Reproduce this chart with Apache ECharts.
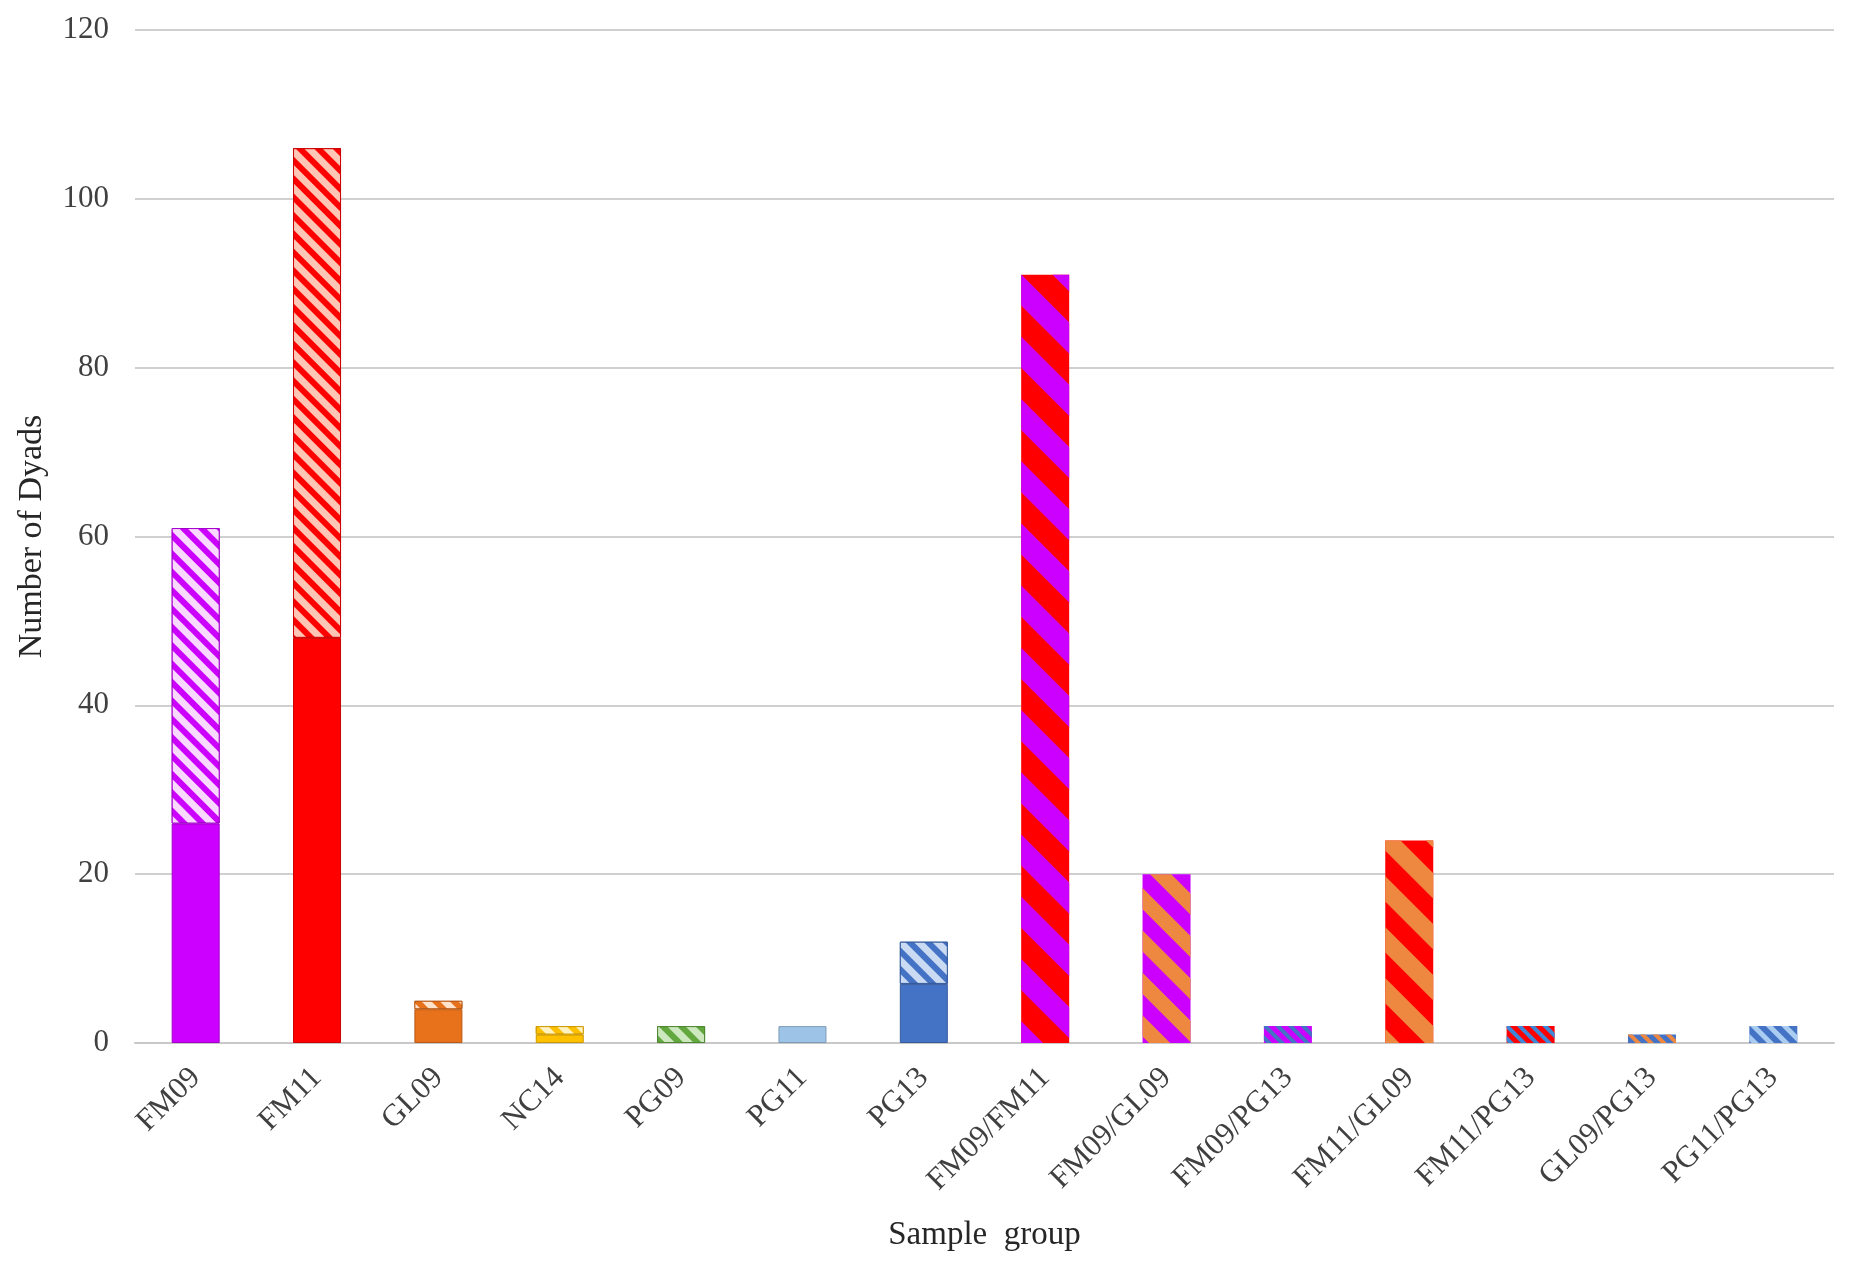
<!DOCTYPE html>
<html>
<head>
<meta charset="utf-8">
<script src="https://cdn.jsdelivr.net/npm/echarts@6/dist/echarts.min.js"></script>
<style>html,body{margin:0;padding:0;background:#fff;}#chart{width:1850px;height:1272px;}</style>
</head>
<body>
<div id="chart"></div>
<script>
// ---- data ----
var categories = ['FM09','FM11','GL09','NC14','PG09','PG11','PG13','FM09/FM11','FM09/GL09','FM09/PG13','FM11/GL09','FM11/PG13','GL09/PG13','PG11/PG13'];
var solidValues   = [26, 48, 4, 1, null, 2, 7, null, null, null, null, null, null, null];
var hatchedValues = [35, 58, 1, 1, 2, null, 5, null, null, null, null, null, null, null];
var sharedValues  = [null, null, null, null, null, null, null, 91, 20, 2, 24, 2, 1, 2];
var yTicks = [0, 20, 40, 60, 80, 100, 120];

// ---- styles ----
var PURPLE = '#CC00FF', RED = '#FF0000', ORANGE = '#E8711C', YELLOW = '#FFC000',
    GREEN = '#63A83E', LBLUE = '#9DC3E6', BLUE = '#4472C4', ORANGE2 = '#EE8840', BLUE2 = '#3E86D6';
var baseColors = [PURPLE, RED, ORANGE, YELLOW, GREEN, LBLUE, BLUE];
var hatchLight = ['#F9D9FF', '#FFC6B6', '#FFE3CC', '#FFF2C0', '#CDE8BF', '#DDEBF7', '#C9DAF2'];
// [base, stripe, stripeWidth, gapWidth]
var sharedStyles = {
  7: [RED, PURPLE, 22, 22],
  8: [PURPLE, ORANGE2, 15, 15],
  9: [PURPLE, BLUE, 4, 5],
  10: [RED, ORANGE2, 18, 18],
  11: [RED, BLUE2, 4, 5],
  12: [BLUE, ORANGE2, 4, 5],
  13: [BLUE, '#A9CCF0', 5, 6]
};
function stripe(color, a, b) {
  return { symbol: 'rect', symbolSize: 1, dashArrayX: [1, 0], dashArrayY: [a, b], rotation: Math.PI / 4, color: color };
}
function darker(hex) {
  var n = parseInt(hex.slice(1), 16);
  var r = Math.round(((n >> 16) & 255) * 0.8), g = Math.round(((n >> 8) & 255) * 0.8), bl = Math.round((n & 255) * 0.8);
  return 'rgb(' + r + ',' + g + ',' + bl + ')';
}

var solidData = solidValues.map(function (v, i) {
  if (v == null) return null;
  return { value: v, itemStyle: { color: baseColors[i], borderColor: darker(baseColors[i]), borderWidth: 1 } };
});
var hatchedData = hatchedValues.map(function (v, i) {
  if (v == null) return null;
  return { value: v, itemStyle: { color: baseColors[i], borderColor: darker(baseColors[i]), borderWidth: 1,
    decal: stripe(hatchLight[i], 7, 6) } };
});
var sharedData = sharedValues.map(function (v, i) {
  if (v == null) return null;
  var s = sharedStyles[i];
  return { value: v, itemStyle: { color: s[0], decal: stripe(s[1], s[2], s[3]) } };
});

var font = 'Liberation Serif';
var chart = echarts.init(document.getElementById('chart'));
chart.setOption({
  animation: false,
  backgroundColor: '#ffffff',
  grid: { left: 135, right: 16, top: 30, bottom: 229, containLabel: false },
  xAxis: {
    type: 'category',
    data: categories,
    axisLine: { lineStyle: { color: '#C8C8C8', width: 2 } },
    axisTick: { show: false },
    axisLabel: { rotate: 45, margin: 30, fontFamily: font, fontSize: 31, color: '#404040', interval: 0 },
    name: 'Sample  group',
    nameLocation: 'middle',
    nameGap: 176,
    nameTextStyle: { fontFamily: font, fontSize: 33, color: '#262626' }
  },
  yAxis: {
    type: 'value',
    min: yTicks[0],
    max: yTicks[yTicks.length - 1],
    interval: 20,
    axisLine: { show: false },
    axisTick: { show: false },
    splitLine: { lineStyle: { color: '#D0D0D0', width: 2 } },
    axisLabel: { margin: 26, fontFamily: font, fontSize: 31, color: '#404040' },
    name: 'Number of Dyads',
    nameLocation: 'middle',
    nameGap: 86,
    nameTextStyle: { fontFamily: font, fontSize: 34, color: '#262626' }
  },
  series: [
    { name: 'solid', type: 'bar', stack: 'a', barWidth: 48, data: solidData },
    { name: 'hatched', type: 'bar', stack: 'a', barWidth: 48, data: hatchedData },
    { name: 'shared', type: 'bar', stack: 'a', barWidth: 48, data: sharedData }
  ]
});
</script>
</body>
</html>
